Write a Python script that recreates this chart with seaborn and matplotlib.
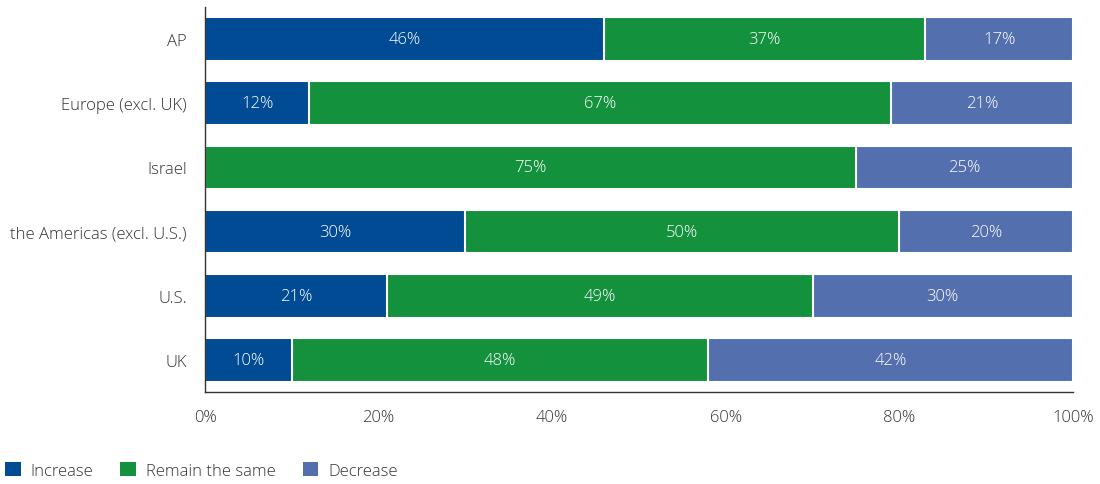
import numpy as np
import pandas as pd
import matplotlib.pyplot as plt
import seaborn as sns
from matplotlib.patches import Patch

regions = ['AP', 'Europe (excl. UK)', 'Israel', 'the Americas (excl. U.S.)', 'U.S.', 'UK']
increase = [46, 12, 0, 30, 21, 10]
same = [37, 67, 75, 50, 49, 48]
decrease = [17, 21, 25, 20, 30, 42]

series_names = ['Increase', 'Remain the same', 'Decrease']
colors = ['#004b93', '#14913c', '#546fad']

sns.set_style('white')
plt.rcParams['font.family'] = ['Open Sans', 'DejaVu Sans']
plt.rcParams['font.weight'] = 'light'

df = pd.DataFrame({'region': regions, 'Increase': increase,
                   'Remain the same': same, 'Decrease': decrease})
df['cum_inc'] = df['Increase']
df['cum_same'] = df['Increase'] + df['Remain the same']
df['cum_dec'] = df['cum_same'] + df['Decrease']

fig = plt.figure(figsize=(11, 4.85), dpi=100)
ax = fig.add_axes([0.1864, 0.1897, 0.789, 0.7938])

# stacked bars drawn as overlaid cumulative layers
for col, c in zip(['cum_dec', 'cum_same', 'cum_inc'], colors[::-1]):
    sns.barplot(data=df, y='region', x=col, order=regions, color=c,
                width=0.68, edgecolor='white', linewidth=1.5, ax=ax,
                saturation=1)

# labels inside segments
for i, r in df.iterrows():
    start = 0
    for name in series_names:
        v = r[name]
        if v > 0:
            ax.text(start + v / 2, i, f'{v}%', ha='center', va='center',
                    color='white', fontsize=12)
        start += v

ax.set_xlim(0, 100)
ax.set_ylim(5.5, -0.5)
ax.set_xticks(np.arange(0, 101, 20))
ax.set_xticklabels([f'{t}%' for t in range(0, 101, 20)])
ax.set_xlabel('')
ax.set_ylabel('')
ax.tick_params(axis='x', direction='in', length=6, color='#333333',
               labelsize=12, labelcolor='#333333', pad=12)
ax.tick_params(axis='y', length=0, labelsize=12, labelcolor='#333333', pad=13)
sns.despine(ax=ax, top=True, right=True)
for s in ['left', 'bottom']:
    ax.spines[s].set_color('#333333')
    ax.spines[s].set_linewidth(1)

handles = [Patch(facecolor=c, edgecolor='none') for c in colors]
fig.legend(handles, series_names, loc='lower left', bbox_to_anchor=(0.0, 0.0),
           ncol=3, frameon=False, fontsize=12, handlelength=0.95,
           handleheight=0.95, handletextpad=0.6, columnspacing=1.6,
           borderpad=0.3, borderaxespad=0.0, labelcolor='#333333')

fig.savefig('out.png', dpi=100)
